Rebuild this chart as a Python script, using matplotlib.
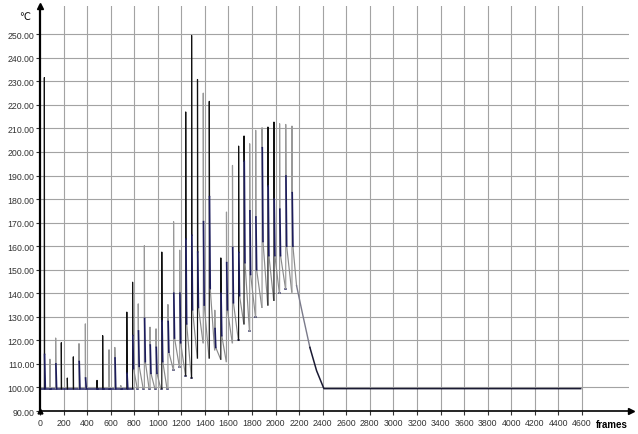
import matplotlib
matplotlib.use("Agg")
import matplotlib.pyplot as plt

# ---- data ----
spike_t = [37, 84, 133, 181, 232, 283, 331, 385, 484, 532, 586, 635, 686, 737,
           786, 834, 886, 934, 985, 1034, 1086, 1134, 1186, 1237, 1287, 1337,
           1386, 1437, 1484, 1535, 1583, 1634, 1686, 1732, 1780, 1831, 1885,
           1935, 1986, 2034, 2086, 2139]
spike_peak = [231.6, 112.0, 121.0, 119.0, 104.0, 113.0, 118.6, 127.0, 103.0, 122.0,
              116.0, 117.0, 100.8, 132.0, 144.7, 135.5, 160.2, 125.6, 124.9, 157.5,
              135.2, 170.4, 158.3, 217.0, 249.5, 230.8, 225.0, 221.5, 132.8, 155.0,
              174.5, 194.3, 202.5, 206.8, 203.5, 209.2, 210.3, 210.6, 212.7, 212.0,
              211.7, 211.0]
spike_post = [114.0, 99.5, 110.0, 99.5, 99.5, 99.5, 111.0, 104.0, 99.5, 99.5,
              99.5, 112.5, 99.5, 106.0, 122.0, 124.0, 129.3, 118.0, 117.0, 128.3,
              128.0, 140.0, 140.0, 163.0, 164.6, 157.5, 170.4, 181.0, 125.0, 140.0,
              153.0, 159.4, 157.3, 196.0, 175.0, 172.4, 201.8, 185.6, 180.0, 175.7,
              189.8, 182.7]
spike_knee = [99.5, 99.5, 99.5, 99.5, 99.5, 99.5, 99.5, 99.5, 99.5, 99.5,
              99.5, 99.5, 99.5, 99.5, 108.0, 109.0, 111.0, 106.0, 106.0, 111.0,
              115.0, 121.0, 119.0, 127.0, 133.0, 134.0, 135.0, 142.0, 117.0, 122.0,
              133.0, 136.0, 139.0, 153.0, 148.0, 150.0, 162.0, 156.0, 156.0, 156.0,
              160.0, 160.0]
spike_trough = [99.5, 99.5, 99.5, 99.5, 99.5, 99.5, 99.5, 99.5, 99.5, 99.5,
                99.5, 99.5, 99.5, 99.5, 99.5, 99.5, 99.5, 99.5, 99.5, 99.5,
                107.5, 108.5, 105.0, 104.0, 112.5, 119.0, 112.5, 116.0, 112.0, 111.0,
                119.0, 120.0, 127.0, 124.0, 130.0, 134.0, 135.0, 137.0, 140.0, 142.0,
                140.5, 143.2]
trough_t = [45, 92, 141, 189, 240, 291, 339, 393, 492, 540, 594, 643, 694, 745,
            826, 876, 926, 975, 1025, 1078, 1132, 1184, 1235, 1285, 1335, 1384,
            1435, 1482, 1533, 1581, 1632, 1684, 1730, 1778, 1829, 1883, 1933,
            1984, 2032, 2084, 2137, 2178]
spike_dark = [1, 0, 0, 1, 1, 1, 0, 0, 1, 1, 0, 0, 0, 1, 1, 0, 0, 0, 0, 1,
              0, 0, 0, 1, 1, 1, 0, 1, 0, 1, 0, 0, 1, 1, 0, 0, 0, 1, 1, 0, 0, 0]
tail_t = [2178, 2235, 2291, 2348, 2410, 4590]
tail_v = [143.2, 129.8, 117.0, 107.1, 99.5, 99.5]
baseline = 99.5

x_ticks = list(range(0, 4601, 200))
y_ticks = [90, 100, 110, 120, 130, 140, 150, 160, 170, 180, 190, 200, 210, 220,
           230, 240, 250]

# ---- figure ----
fig = plt.figure(figsize=(6.38, 4.35), dpi=100)
ax = fig.add_axes([40 / 638, 23 / 435, 589 / 638, 405 / 435])
ax.set_xlim(0, 5000)
ax.set_ylim(90, 262)

grid_c = "#a3a3a3"
for xv in x_ticks[1:]:
    ax.axvline(xv, color=grid_c, lw=0.8, zorder=1)
for yv in y_ticks[1:]:
    ax.axhline(yv, color=grid_c, lw=0.8, zorder=1)

dark = "#111111"
gray = "#999999"
navy = "#1c1c5c"
knee_dt = 8

# baseline flat before first spike
ax.plot([0, spike_t[0]], [baseline, baseline], color=navy, lw=1.1, zorder=3)
prev = baseline
for i, t in enumerate(spike_t):
    c = dark if spike_dark[i] else gray
    # rise and fall
    ax.plot([t, t, t + 2], [prev, spike_peak[i], spike_post[i]], color=c,
            lw=0.85, zorder=4)
    # steep first part of the decay
    kt = min(t + knee_dt, trough_t[i])
    ax.plot([t + 2, kt], [spike_post[i], spike_knee[i]], color=navy,
            lw=1.2, zorder=5)
    # slower remaining decay
    ax.plot([kt, trough_t[i]], [spike_knee[i], spike_trough[i]], color="#8a8a8a",
            lw=0.85, zorder=4)
    nxt = spike_t[i + 1] if i + 1 < len(spike_t) else trough_t[i]
    if trough_t[i] < nxt:
        ax.plot([trough_t[i], nxt], [spike_trough[i], spike_trough[i]],
                color=navy, lw=1.1, zorder=3)
    prev = spike_trough[i]
ax.plot(tail_t[:3], tail_v[:3], color="#7a7a8a", lw=1.0, zorder=5)
ax.plot(tail_t[2:], tail_v[2:], color="#1a1a33", lw=1.1, zorder=5)

# axes styling
for s in ["top", "right"]:
    ax.spines[s].set_visible(False)
ax.spines["left"].set_linewidth(1.6)
ax.spines["bottom"].set_linewidth(1.2)
ax.spines["left"].set_zorder(6)
ax.spines["bottom"].set_zorder(6)

ax.set_xticks(x_ticks)
ax.set_xticklabels([str(v) for v in x_ticks])
ax.set_yticks(y_ticks)
ax.set_yticklabels([f"{v:.2f}" for v in y_ticks])
ax.tick_params(axis="both", labelsize=6.3, colors="#333333", length=3,
               width=0.8, pad=1)
for lab in ax.get_xticklabels() + ax.get_yticklabels():
    lab.set_family("Liberation Sans")
ax.tick_params(axis="x", pad=2)

# arrows
ax.plot([0], [1.0], marker="^", color="black", markersize=5,
        transform=ax.transAxes, clip_on=False, zorder=7)
ax.plot([1.003], [0.0], marker=">", color="black", markersize=5,
        transform=ax.transAxes, clip_on=False, zorder=7)
ax.plot([0], [90], marker="^", color="black", markersize=3.5, clip_on=False,
        zorder=7)

fig.text(25 / 638, 1 - 17 / 435, "℃", fontsize=7, ha="center", va="center",
         family="DejaVu Sans")
fig.text(612 / 638, 1 - 425 / 435, "frames", fontsize=7, ha="center",
         va="center", fontweight="bold", family="Liberation Sans")

fig.savefig("out.png", dpi=100)
